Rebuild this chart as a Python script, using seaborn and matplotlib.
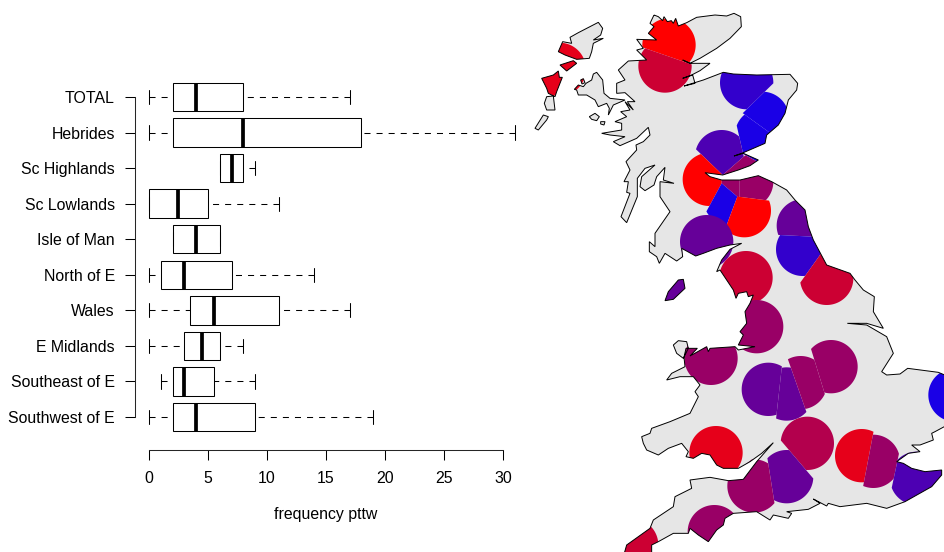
import matplotlib
matplotlib.use("Agg")
import matplotlib.pyplot as plt
from matplotlib.patches import PathPatch, Polygon
from matplotlib.path import Path
import numpy as np
import pandas as pd
import seaborn as sns

# boxplot values (five number summaries)
regions = ["TOTAL", "Hebrides", "Sc Highlands", "Sc Lowlands", "Isle of Man",
           "North of E", "Wales", "E Midlands", "Southeast of E", "Southwest of E"]
lows = [0, 0, 6, 0, 2, 0, 0, 0, 1, 0]
q1s = [2, 2, 6, 0, 2, 1, 3.5, 3, 2, 2]
medians = [4, 8, 7, 2.5, 4, 3, 5.5, 4.5, 3, 4]
q3s = [8, 18, 8, 5, 6, 7, 11, 6, 5.5, 9]
highs = [17, 31, 9, 11, 6, 14, 17, 8, 9, 19]
x_ticks = [0, 5, 10, 15, 20, 25, 30]

# coastline, in map units (3 units per pixel, origin at the map's top left)
north_a = [(372, 45), (385, 50), (398, 62), (402, 50), (412, 65), (424, 62), (430, 70), (437, 55), (445, 78),
           (470, 68), (500, 52), (555, 45), (590, 48), (612, 40), (632, 50), (634, 80), (600, 115), (560, 145),
           (510, 175), (480, 190), (458, 180), (480, 190), (540, 190), (510, 212), (485, 225), (458, 235), (488, 225), (495, 250), (462, 258),
           (520, 240), (580, 217), (610, 222), (680, 225), (780, 223), (803, 250), (800, 270), (775, 300),
           (765, 340), (745, 375), (710, 405), (705, 430), (640, 458), (612, 468), (640, 460), (685, 480),
           (660, 497), (625, 510), (578, 525), (525, 518), (540, 530), (575, 540), (630, 540), (685, 527),
           (725, 545), (770, 570), (795, 600), (825, 630), (835, 680), (850, 720), (890, 795), (960, 820), (975, 840)]
south = [(760, 60), (793, 80), (790, 125), (820, 175), (770, 160), (712, 160), (770, 165), (830, 200), (850, 250),
         (815, 305), (830, 315), (870, 312), (893, 295), (985, 307), (1040, 330), (1060, 400), (1040, 450), (975, 485),
         (965, 490), (970, 510), (930, 525), (905, 525), (930, 545), (895, 550), (860, 575), (880, 580),
         (905, 595), (945, 605), (995, 600), (995, 615), (965, 650), (885, 695), (830, 715), (770, 700),
         (690, 710), (655, 700), (650, 708), (610, 687), (630, 700), (595, 718), (530, 725), (545, 730),
         (535, 745), (490, 735), (480, 750), (440, 725), (370, 730), (345, 745), (340, 765), (320, 780),
         (295, 815), (265, 795), (240, 775), (235, 790), (190, 790), (145, 815), (125, 825), (125, 860),
         (40, 860), (50, 825), (120, 775), (130, 750), (190, 710), (195, 680), (245, 655), (240, 630),
         (300, 622), (355, 632), (400, 628), (440, 575), (490, 518), (455, 550), (420, 575), (385, 595),
         (340, 595), (320, 585), (300, 555), (275, 550), (250, 565), (228, 560), (235, 545), (215, 520),
         (175, 535), (145, 555), (110, 540), (100, 520), (95, 500), (120, 490), (125, 475), (180, 455),
         (240, 430), (265, 380), (255, 365), (270, 345), (250, 320), (210, 320), (170, 330), (185, 310),
         (225, 290), (222, 262), (228, 235), (262, 235), (240, 258), (290, 230), (295, 245), (300, 235),
         (375, 230), (385, 240), (435, 230), (385, 225), (400, 195), (390, 185), (410, 160), (405, 125),
         (420, 100), (430, 75), (415, 80), (410, 65), (385, 70), (378, 85), (370, 60), (330, 0)]
north_b = [(560, 815), (575, 780), (600, 748), (635, 730), (600, 735), (560, 745), (520, 760), (497, 768), (455, 745),
           (458, 770), (440, 783), (405, 760), (388, 790), (380, 770), (358, 755), (358, 725), (375, 740),
           (375, 700), (420, 635), (390, 590), (390, 545), (432, 550), (400, 540), (405, 502), (380, 530),
           (372, 555), (345, 572), (330, 560), (335, 530), (375, 495), (345, 505), (322, 535), (322, 590),
           (290, 668), (273, 650), (300, 580), (290, 577), (295, 545), (282, 545), (300, 510), (288, 485),
           (320, 450), (318, 435), (340, 425), (360, 405), (355, 382), (320, 415), (270, 437), (250, 425),
           (285, 410), (240, 405), (215, 400), (275, 390), (275, 370), (255, 365), (290, 350), (272, 335),
           (300, 330), (285, 305), (310, 330), (292, 305), (315, 305), (285, 278), (260, 280), (260, 250),
           (285, 240), (265, 210), (295, 183), (350, 180), (320, 150), (340, 145), (320, 118), (380, 120),
           (355, 100), (372, 80), (360, 70)]
south_dx, south_dy = 240, 810

skye = [(133, 268), (145, 255), (160, 260), (168, 250), (185, 240), (190, 222), (200, 217), (218, 240), (222, 280),
        (240, 295), (285, 300), (250, 315), (235, 345), (238, 325), (230, 310), (205, 320), (195, 300), (170, 285), (145, 285),
        (140, 270)]
scalpay = [(152, 240), (160, 236), (165, 248), (156, 252)]
rum = [(178, 350), (195, 340), (208, 350), (200, 362), (185, 358)]
eigg = [(212, 365), (225, 365), (222, 375), (212, 372)]
lewis = [(205, 67), (218, 85), (212, 105), (190, 120), (220, 115), (190, 130), (185, 155), (178, 175), (140, 178),
         (105, 165), (85, 155), (98, 125), (125, 130), (120, 112), (145, 98)]
harris = [(90, 195), (130, 182), (140, 190), (110, 213)]
uist = [(35, 235), (70, 225), (85, 213), (88, 232), (97, 232), (80, 275), (75, 290), (55, 280), (50, 265)]
barra = [(50, 290), (70, 288), (75, 330), (50, 330), (43, 310)]
mingulay = [(15, 385), (40, 345), (55, 350), (50, 360), (25, 390)]
man = [(405, 902), (415, 875), (445, 840), (460, 838), (465, 865), (430, 898)]
anglesey = [(430, 1035), (445, 1022), (470, 1025), (475, 1045), (460, 1075), (440, 1060)]
islands = [skye, scalpay, rum, eigg, lewis, harris, uist, barra, mingulay, man, anglesey]

# map cells: circle centre, radius and colour, then the lines cutting a cell off from its neighbours
red, red2, crimson, rose, plum = "#FF0000", "#E6001A", "#CC0033", "#B3004D", "#990066"
violet, indigo, navy, blue = "#660099", "#4D00B3", "#3300CC", "#1A00E6"
site_x = [417, 405, 88, 650, 697, 695, 575, 538, 628, 605, 650, 600, 643, 530, 648, 820, 818, 890,
          680, 543, 715, 770, 812, 903, 1275, 558, 832, 770, 672, 553, 305, 995, 1030, 1160, 435]
site_y = [135, 198, 208, 248, 355, 405, 470, 538, 490, 555, 545, 597, 632, 725, 833, 677, 748, 835,
          980, 1075, 1168, 1182, 1148, 1100, 1185, 1358, 1330, 1430, 1458, 1595, 1635, 1367, 1384, 1435, 870]
site_r = [80] * 35
site_col = [red, crimson, red2, navy, blue, blue, indigo, red, plum, plum, plum, blue, red, violet, crimson,
            violet, navy, crimson, plum, plum, violet, violet, plum, plum, blue, red2, rose, violet, plum, plum,
            crimson, red2, plum, indigo, violet]
cut_ab = (340, 143, 490, 195)
cut_cd = (650, 328, 730, 250)
cut_de = (650, 348, 715, 395)
cut_ef = (622, 385, 638, 455)
cut_fg = (497, 447, 578, 525)
cut_fh = (578, 525, 632, 478)
cut_eh = (640, 462, 682, 485)
cut_gi = (575, 550, 537, 620)
cut_gh = (575, 500, 575, 550)
cut_forth = (500, 528, 700, 528)
cut_ii = (628, 500, 628, 600)
cut_hi = (575, 550, 622, 590)
cut_ij = (622, 590, 590, 675)
cut_jh = (625, 590, 718, 602)
cut_mn = (748, 705, 848, 710)
cut_no = (825, 828, 870, 765)
cut_rs = (755, 1105, 740, 1240)
cut_st = (778, 1090, 830, 1238)
cut_tu = (844, 1050, 890, 1200)
cut_xy = (753, 1322, 852, 1438)
cut_yz = (713, 1380, 732, 1500)
cut_bristol = (625, 1410, 730, 1328)
cut_wales = (500, 1418, 660, 1418)
cut_ad = (1030, 1298, 1002, 1445)
cut_de2 = (1105, 1370, 1088, 1450)
site_cuts = [[cut_ab], [cut_ab], [], [cut_cd], [cut_cd, cut_de], [cut_de, cut_ef, cut_eh], [cut_ef, cut_fg, cut_fh],
             [cut_fg, cut_gi, cut_gh], [cut_fh, cut_eh, cut_forth], [cut_forth, cut_ii, cut_hi, cut_gh], [cut_forth, cut_ii, cut_jh],
             [cut_gi, cut_hi, cut_ij], [cut_ij, cut_jh], [], [], [cut_mn], [cut_mn, cut_no], [cut_no],
             [], [], [cut_rs], [cut_rs, cut_st], [cut_st, cut_tu], [cut_tu], [], [cut_wales], [cut_xy], [cut_xy, cut_yz],
             [cut_yz, cut_bristol], [], [], [cut_ad], [cut_ad, cut_de2], [cut_de2], []]


def closed_path(rings):
    verts, codes = [], []
    for ring in rings:
        verts += ring + [ring[0]]
        codes += [Path.MOVETO] + [Path.LINETO] * (len(ring) - 1) + [Path.CLOSEPOLY]
    return Path(verts, codes)


def cut_circle(cx, cy, r, cuts):
    # circle as a polygon, chopped by each line, keeping the side with the centre
    t = np.linspace(0, 2 * np.pi, 180, endpoint=False)
    pts = np.column_stack([cx + r * np.cos(t), cy + r * np.sin(t)])
    for x1, y1, x2, y2 in cuts:
        side = lambda p: (x2 - x1) * (p[..., 1] - y1) - (y2 - y1) * (p[..., 0] - x1)
        keep = np.sign(side(np.array([cx, cy])))
        new = []
        for a, b in zip(pts, np.roll(pts, -1, axis=0)):
            sa, sb = side(a) * keep, side(b) * keep
            if sa >= 0:
                new.append(a)
            if sa * sb < 0:
                new.append(a + (b - a) * sa / (sa - sb))
        pts = np.array(new)
    return pts


sns.set_theme(style="white")
plt.rcParams["font.family"] = ["Liberation Sans", "DejaVu Sans"]
plt.rcParams["axes.linewidth"] = 0.75

W, H = 945, 552
fig = plt.figure(figsize=(W / 100, H / 100), dpi=100)

# left panel
ax = fig.add_axes([135 / W, 1 - 450 / H, 390 / W, 375 / H])
box_df = pd.DataFrame({
    "region": np.repeat(regions, 5),
    "value": np.column_stack([lows, q1s, medians, q3s, highs]).ravel(),
})
sns.boxplot(data=box_df, x="value", y="region", order=regions, orient="h", whis=(0, 100), width=0.8,
            color="white", linecolor="black", linewidth=0.75, capwidths=0.4, fliersize=0, ax=ax,
            boxprops={"facecolor": "white"},
            medianprops={"linewidth": 2.7, "solid_capstyle": "butt"},
            whiskerprops={"linestyle": (0, (5.8, 5.8))})
# whisker dashes start at the cap, not at the box
for line in ax.lines:
    if line.get_linestyle() != "-":
        line.set_data(line.get_xdata()[::-1], line.get_ydata()[::-1])
ax.set_xlim((135 - 149) / 11.8, (525 - 149) / 11.8)
ax.set_ylim((450 - 97) / 35.56, (75 - 97) / 35.56)
ax.set_xticks(x_ticks)
ax.set_ylabel("")
ax.set_xlabel("frequency pttw", x=(326 - 135) / 390, labelpad=15, fontsize=11.4, color="black")
ax.tick_params(axis="both", which="major", left=True, bottom=True, length=7.2, width=0.75, color="black",
               labelsize=11.4, labelcolor="black")
ax.tick_params(axis="y", pad=7.2)
ax.tick_params(axis="x", pad=8)
sns.despine(ax=ax, top=True, right=True)
ax.spines["left"].set_bounds(0, 9)
ax.spines["bottom"].set_bounds(0, 30)
ax.patch.set_alpha(0)

# map panel
m = fig.add_axes([530 / W, 0, 415 / W, 1])
m.set_xlim(0, 1245)
m.set_ylim(1656, 0)
m.axis("off")
mainland = north_a + [(x + south_dx, y + south_dy) for x, y in south] + north_b
land = closed_path([mainland] + islands)
land_patch = PathPatch(land, facecolor="#E6E6E6", edgecolor="none", zorder=1)
m.add_patch(land_patch)
for i in range(len(site_x)):
    pts = cut_circle(site_x[i], site_y[i], site_r[i], site_cuts[i])
    cell = Polygon(pts, closed=True, facecolor=site_col[i], edgecolor="none", zorder=2)
    m.add_patch(cell)
    cell.set_clip_path(land_patch)
m.add_patch(PathPatch(land, facecolor="none", edgecolor="black", linewidth=0.7, zorder=3))

fig.savefig("out.png", dpi=100)
